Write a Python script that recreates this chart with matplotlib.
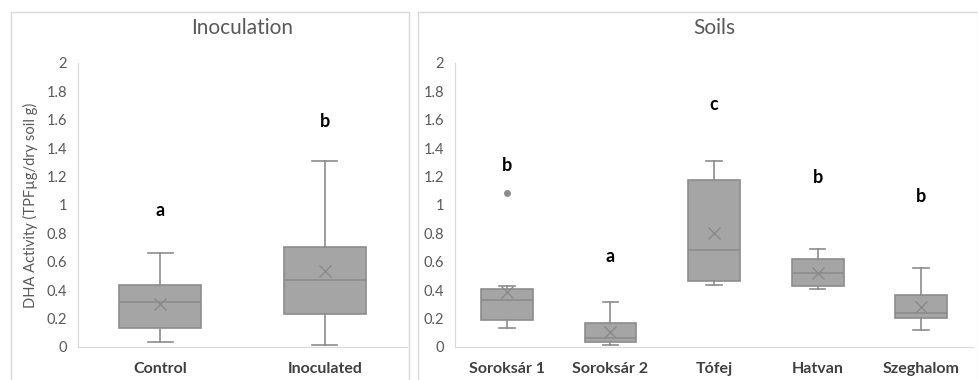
import matplotlib.pyplot as plt
from matplotlib.patches import Rectangle

plt.rcParams['font.family'] = ['Lato', 'DejaVu Sans']

# Inoculation panel
inoc_names = ["Control", "Inoculated"]
inoc_whislo = [0.033, 0.014]
inoc_q1 = [0.134, 0.232]
inoc_med = [0.319, 0.470]
inoc_q3 = [0.434, 0.704]
inoc_whishi = [0.660, 1.312]
inoc_mean = [0.305, 0.537]
inoc_letters = ["a", "b"]
inoc_letter_y = [0.96, 1.59]

# Soils panel
soil_names = ["Soroksár 1", "Soroksár 2", "Tófej", "Hatvan", "Szeghalom"]
soil_whislo = [0.136, 0.012, 0.440, 0.408, 0.122]
soil_q1 = [0.188, 0.038, 0.467, 0.427, 0.204]
soil_med = [0.333, 0.066, 0.683, 0.519, 0.237]
soil_q3 = [0.408, 0.171, 1.178, 0.620, 0.364]
soil_whishi = [0.427, 0.320, 1.310, 0.690, 0.556]
soil_mean = [0.387, 0.108, 0.800, 0.520, 0.280]
soil_fliers = [[1.085], [], [], [], []]
soil_letters = ["b", "a", "c", "b", "b"]
soil_letter_y = [1.28, 0.64, 1.71, 1.197, 1.06]

yticks = [0, 0.2, 0.4, 0.6, 0.8, 1, 1.2, 1.4, 1.6, 1.8, 2]
ytick_labels = ["0", "0.2", "0.4", "0.6", "0.8", "1", "1.2", "1.4", "1.6", "1.8", "2"]

box_fill = "#a5a5a5"
edge = "#8c8c8c"
text_gray = "#595959"
line_gray = "#d9d9d9"


def make_stats(names, wl, q1, med, q3, wh, mean, fliers=None):
    stats = []
    for i, n in enumerate(names):
        stats.append(dict(label=n, whislo=wl[i], q1=q1[i], med=med[i], q3=q3[i],
                          whishi=wh[i], mean=mean[i],
                          fliers=fliers[i] if fliers else []))
    return stats


def draw_panel(ax, stats, letters, letter_y, title):
    ax.bxp(stats, positions=range(len(stats)), widths=0.5, capwidths=0.15,
           showmeans=True, patch_artist=True,
           boxprops=dict(facecolor=box_fill, edgecolor=edge, linewidth=1.2),
           medianprops=dict(color=edge, linewidth=1.2),
           whiskerprops=dict(color=edge, linewidth=1.2),
           capprops=dict(color=edge, linewidth=1.2),
           meanprops=dict(marker="x", markeredgecolor="#8a8a8a", markersize=8,
                          markeredgewidth=1),
           flierprops=dict(marker="o", markerfacecolor="#8c8c8c",
                           markeredgecolor="#8c8c8c", markersize=4))
    for i, (l, y) in enumerate(zip(letters, letter_y)):
        ax.text(i, y, l, ha="center", va="center", fontsize=13,
                fontweight="bold", color="black")
    ax.set_xlim(-0.5, len(stats) - 0.5)
    ax.set_ylim(0, 2)
    ax.set_yticks(yticks)
    ax.set_yticklabels(ytick_labels)
    ax.tick_params(axis="y", length=0, labelsize=10.5, labelcolor=text_gray, pad=8)
    ax.tick_params(axis="x", length=0, labelsize=11.5, labelcolor="#404040", pad=11)
    for lab in ax.get_xticklabels():
        lab.set_fontweight("bold")
    for s in ["top", "right"]:
        ax.spines[s].set_visible(False)
    for s in ["left", "bottom"]:
        ax.spines[s].set_color(line_gray)
    ax.set_title(title, fontsize=15, color=text_gray, pad=21)


fig = plt.figure(figsize=(9.79, 3.8), dpi=100)

# panel frames
fig.add_artist(Rectangle((11 / 979, -0.05), 398 / 979, 1.05 - 12 / 380,
                         transform=fig.transFigure, fill=False,
                         edgecolor=line_gray, linewidth=1))
fig.add_artist(Rectangle((418 / 979, -0.05), 560 / 979, 1.05 - 12 / 380,
                         transform=fig.transFigure, fill=False,
                         edgecolor=line_gray, linewidth=1))

ax1 = fig.add_axes([78 / 979, 33 / 380, 329 / 979, 284 / 380])
ax2 = fig.add_axes([455 / 979, 33 / 380, 518 / 979, 284 / 380])

draw_panel(ax1, make_stats(inoc_names, inoc_whislo, inoc_q1, inoc_med, inoc_q3,
                           inoc_whishi, inoc_mean),
           inoc_letters, inoc_letter_y, "Inoculation")
ax1.set_ylabel("DHA Activity (TPFµg/dry soil g)", fontsize=10.5, color=text_gray,
               labelpad=6)

draw_panel(ax2, make_stats(soil_names, soil_whislo, soil_q1, soil_med, soil_q3,
                           soil_whishi, soil_mean, soil_fliers),
           soil_letters, soil_letter_y, "Soils")

fig.savefig("out.png", dpi=100)
